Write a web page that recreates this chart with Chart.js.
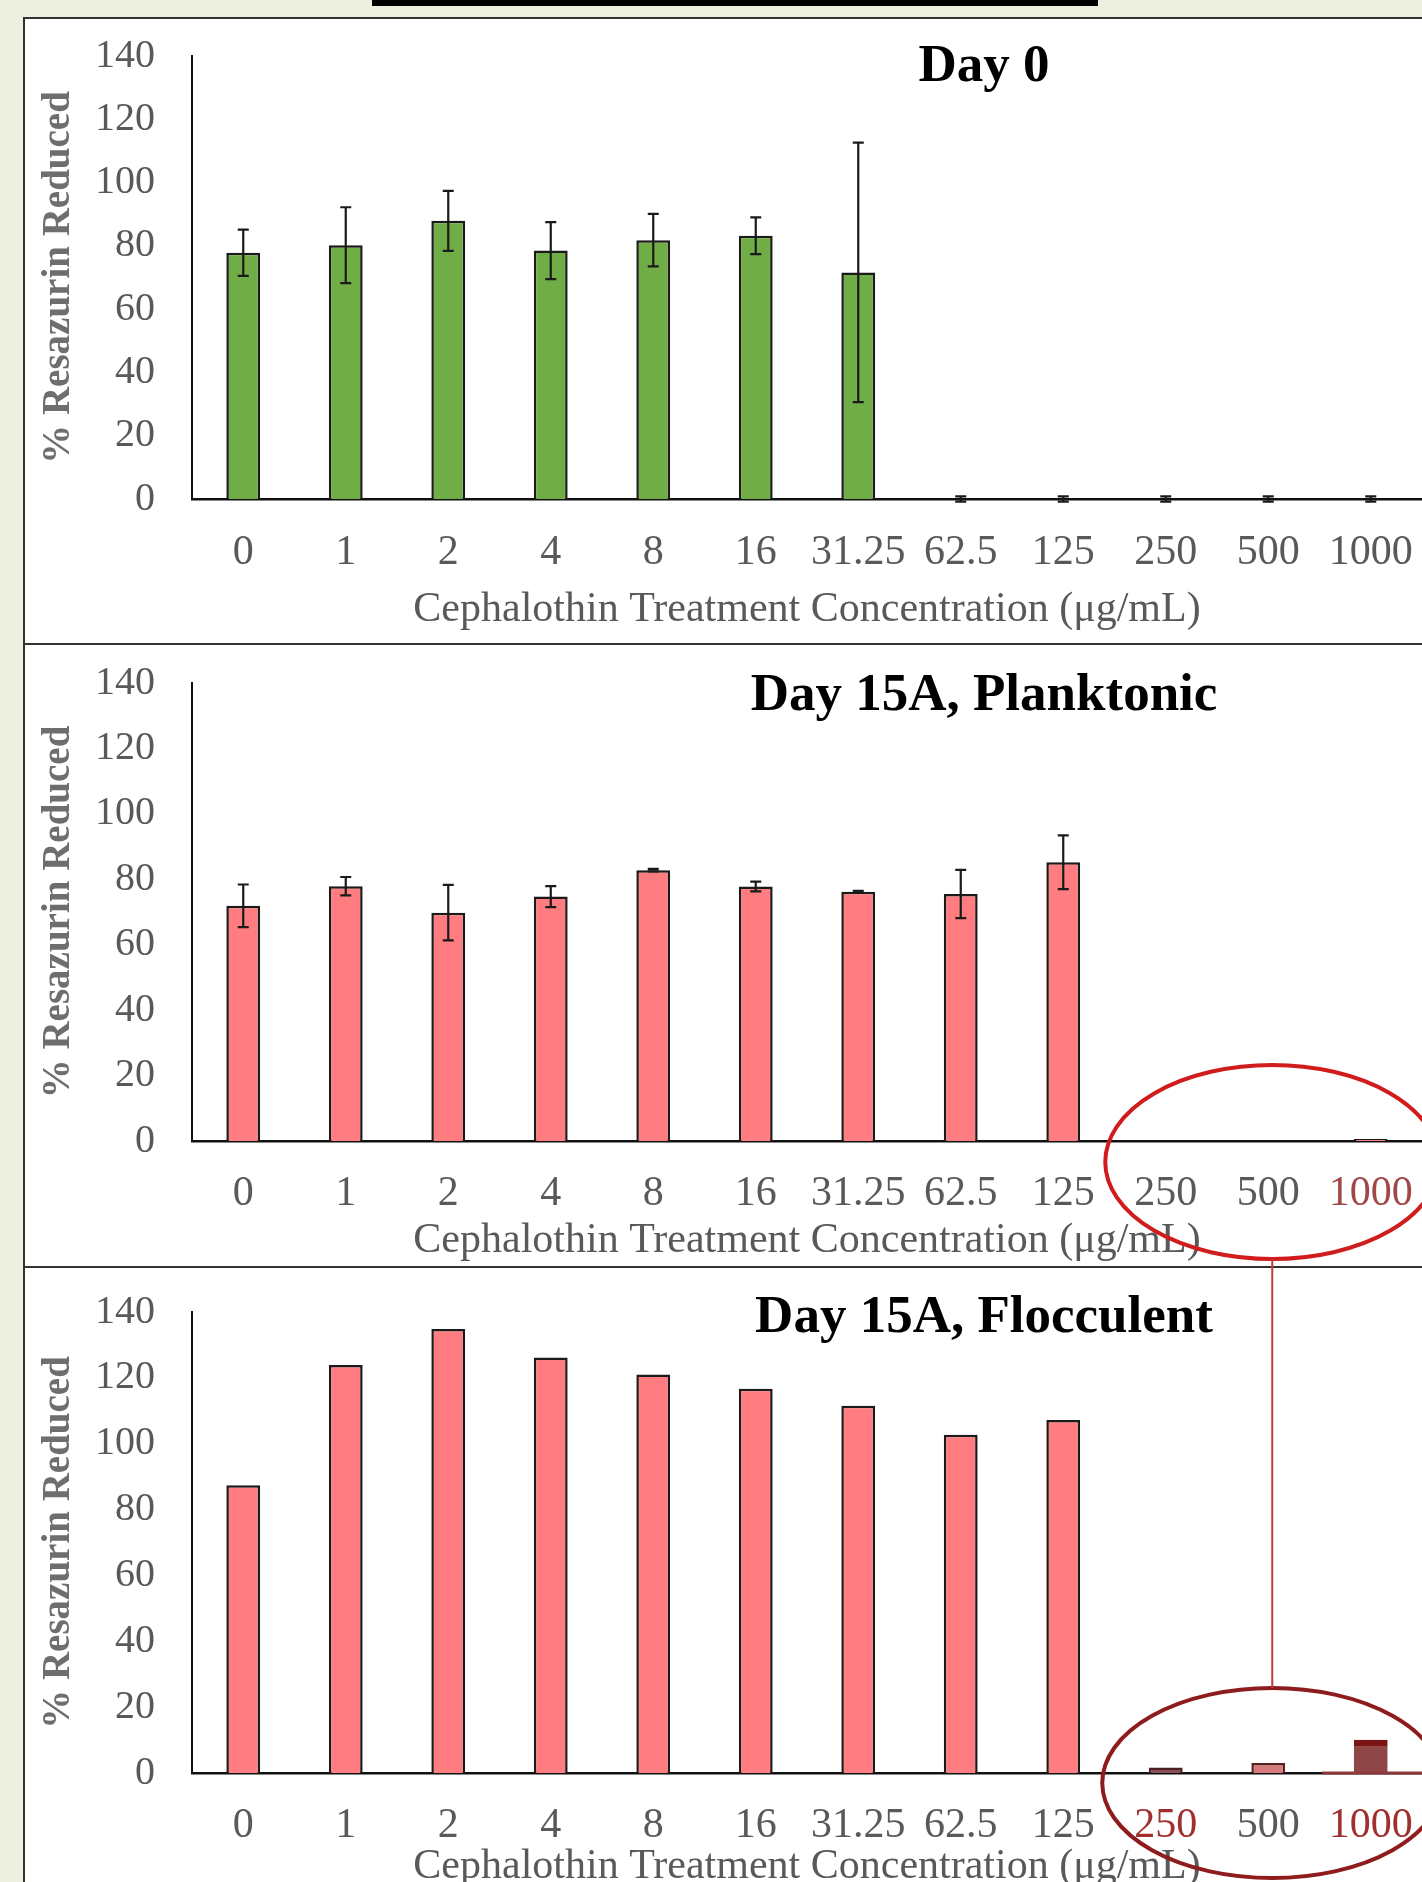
<!DOCTYPE html>
<html>
<head>
<meta charset="utf-8">
<title>Resazurin reduction - Cephalothin</title>
<script src="https://cdn.jsdelivr.net/npm/chart.js@4.4.1/dist/chart.umd.min.js"></script>
<style>
    body { margin: 0; width: 1422px; height: 1882px; overflow: hidden; position: relative; background: #edefe0; }
    .topbar { position: absolute; left: 372px; top: 0; width: 726px; height: 6px; background: #000; }
    .panel { position: absolute; left: 23px; width: 1420px; background: #fff; border-left: 2px solid #333; border-top: 2px solid #333; }
    canvas { position: absolute; left: 0; }
</style>
</head>
<body>
<div class="topbar"></div>
<div class="panel" style="top:17px;height:624px"></div>
<div class="panel" style="top:643px;height:621px"></div>
<div class="panel" style="top:1266px;height:640px"></div>
<canvas id="day0Chart" width="1422" height="644" style="top:0"></canvas>
<canvas id="planktonicChart" width="1422" height="622" style="top:644px"></canvas>
<canvas id="flocculentChart" width="1422" height="640" style="top:1266px"></canvas>

<script>
// data
const concentrations = ['0', '1', '2', '4', '8', '16', '31.25', '62.5', '125', '250', '500', '1000'];

const day0Values = [77.8, 80.2, 87.9, 78.5, 81.8, 83.2, 71.6, 0, 0, 0, 0, 0];
const day0Errors = [7.3, 12, 9.5, 9, 8.3, 5.8, 41, 0.8, 0.8, 0.8, 0.8, 0.8];

const planktonicValues = [71.9, 77.9, 69.8, 74.7, 82.8, 77.8, 76.2, 75.5, 85.2, 0, 0, 0.6];
const planktonicErrors = [6.5, 2.8, 8.5, 3.2, 0.4, 1.5, 0.3, 7.4, 8.2, 0, 0, 0];

const flocculentValues = [87.4, 123.9, 134.8, 126.2, 121.0, 116.7, 111.5, 102.7, 107.2, 1.7, 3.0, 10.1];

const yMin = 0;
const yMax = 140;
const yStep = 20;

// colours
const green = '#70ad47';
const salmon = '#ff7c80';
const flocculentFill = [salmon, salmon, salmon, salmon, salmon, salmon, salmon, salmon, salmon, '#8c4f58', '#d67a7e', '#8e4646'];
const flocculentBorder = ['#1a1a1a', '#1a1a1a', '#1a1a1a', '#1a1a1a', '#1a1a1a', '#1a1a1a', '#1a1a1a', '#1a1a1a', '#1a1a1a', '#4a2020', '#5a2020', '#7a1515'];
const greyText = '#595959';
const serif = "'Liberation Serif', 'Times New Roman', serif";

Chart.defaults.font.family = serif;
Chart.defaults.animation = false;

const errorBarPlugin = {
    id: 'errorBars',
    afterDatasetsDraw(chart, args, opts) {
        const errors = opts.errors;
        if (!errors) return;
        const ctx = chart.ctx;
        const yScale = chart.scales.y;
        const values = chart.data.datasets[0].data;
        const meta = chart.getDatasetMeta(0);
        ctx.save();
        ctx.strokeStyle = '#1a1a1a';
        ctx.lineWidth = 2.2;
        meta.data.forEach((bar, i) => {
            const err = errors[i];
            if (!err) return;
            const top = yScale.getPixelForValue(values[i] + err);
            const bottom = yScale.getPixelForValue(values[i] - err);
            ctx.beginPath();
            ctx.moveTo(bar.x, top);
            ctx.lineTo(bar.x, bottom);
            ctx.moveTo(bar.x - 5.5, top);
            ctx.lineTo(bar.x + 5.5, top);
            ctx.moveTo(bar.x - 5.5, bottom);
            ctx.lineTo(bar.x + 5.5, bottom);
            ctx.stroke();
        });
        ctx.restore();
    }
};

const panelTitlePlugin = {
    id: 'panelTitle',
    afterDraw(chart, args, opts) {
        const ctx = chart.ctx;
        ctx.save();
        ctx.font = 'bold 53px ' + serif;
        ctx.fillStyle = '#000';
        ctx.textAlign = 'center';
        ctx.textBaseline = 'alphabetic';
        ctx.fillText(opts.text, opts.x, opts.y);
        ctx.restore();
    }
};

// hand drawn red circles round the high concentrations
const circlePlugin = {
    id: 'circleNote',
    afterDraw(chart, args, opts) {
        if (!opts.color) return;
        const ctx = chart.ctx;
        const cx = chart.scales.x.getPixelForValue(10) + 4;
        ctx.save();
        if (opts.baseLine) {
            ctx.strokeStyle = '#8e3a3a';
            ctx.lineWidth = 3;
            ctx.beginPath();
            ctx.moveTo(cx + 50, chart.chartArea.bottom);
            ctx.lineTo(chart.width, chart.chartArea.bottom);
            ctx.stroke();
        }
        ctx.strokeStyle = opts.color;
        ctx.lineWidth = 4;
        ctx.beginPath();
        ctx.ellipse(cx, opts.cy, opts.rx, opts.ry, 0, 0, Math.PI * 2);
        ctx.stroke();
        ctx.strokeStyle = '#c43a3a';
        ctx.lineWidth = 2;
        ctx.beginPath();
        ctx.moveTo(cx, opts.lineFrom);
        ctx.lineTo(cx, opts.lineTo);
        ctx.stroke();
        ctx.restore();
    }
};

function drawPanel(id, values, fill, border, borderWidth, layout, extra) {
    let ctx = document.getElementById(id).getContext('2d');
    return new Chart(ctx, {
        type: 'bar',
        data: {
            labels: concentrations,
            datasets: [{
                data: values,
                backgroundColor: fill,
                borderColor: border,
                borderWidth: borderWidth,
                barPercentage: 0.33,
                categoryPercentage: 1
            }]
        },
        plugins: [errorBarPlugin, panelTitlePlugin, circlePlugin],
        options: {
            responsive: false,
            devicePixelRatio: 1,
            layout: {
                autoPadding: false,
                padding: { top: layout.top, left: 0, right: 0, bottom: 0 }
            },
            scales: {
                x: {
                    grid: { display: false, drawTicks: false },
                    border: { display: true, color: '#111', width: 2.5 },
                    ticks: {
                        font: { size: 42 },
                        color: extra.tickColor || greyText,
                        padding: layout.tickPad,
                        maxRotation: 0,
                        autoSkip: false
                    },
                    title: {
                        display: true,
                        text: 'Cephalothin Treatment Concentration (μg/mL)',
                        font: { size: 42 },
                        color: greyText,
                        padding: { top: 0, bottom: layout.titlePad }
                    },
                    afterFit(scale) {
                        scale.height = layout.xHeight;
                        scale.paddingLeft = 0;
                        scale.paddingRight = 0;
                    }
                },
                y: {
                    min: yMin,
                    max: yMax,
                    grid: { display: false, drawTicks: false },
                    border: { display: true, color: '#111', width: 2 },
                    ticks: {
                        stepSize: yStep,
                        font: { size: 40 },
                        color: greyText,
                        padding: 37
                    },
                    title: {
                        display: true,
                        text: '% Resazurin Reduced',
                        font: { size: 39, weight: 'bold' },
                        color: '#6e6e6e',
                        padding: { top: 36, bottom: 0 }
                    },
                    afterFit(scale) {
                        scale.width = 192;
                        scale.paddingTop = 0;
                        scale.paddingBottom = 0;
                    }
                }
            },
            plugins: {
                legend: { display: false },
                tooltip: { enabled: false },
                errorBars: { errors: extra.errors },
                panelTitle: { text: extra.title, x: 984, y: extra.titleY },
                circleNote: extra.circle || {}
            }
        }
    });
}

drawPanel('day0Chart', day0Values, green, '#1a1a1a',
    (c) => (day0Values[c.dataIndex] ? 2.5 : 0),
    { top: 56, xHeight: 145, tickPad: 29, titlePad: 9 },
    { errors: day0Errors, title: 'Day 0', titleY: 81 });

drawPanel('planktonicChart', planktonicValues, salmon, '#1a1a1a',
    (c) => (planktonicValues[c.dataIndex] ? 2.5 : 0),
    { top: 39, xHeight: 125, tickPad: 28, titlePad: 0 },
    {
        errors: planktonicErrors, title: 'Day 15A, Planktonic', titleY: 66,
        tickColor: (c) => (c.index === 11 ? '#a04848' : greyText),
        circle: { color: '#d01c1c', cy: 518, rx: 167, ry: 97, lineFrom: 615, lineTo: 622 }
    });

drawPanel('flocculentChart', flocculentValues,
    (c) => flocculentFill[c.dataIndex],
    (c) => flocculentBorder[c.dataIndex],
    (c) => (c.dataIndex === 11 ? { top: 7, left: 0, right: 0, bottom: 0 } : 2.5),
    { top: 46, xHeight: 133, tickPad: 28, titlePad: 14 },
    {
        errors: null, title: 'Day 15A, Flocculent', titleY: 66,
        tickColor: (c) => (c.index === 9 || c.index === 11 ? '#a03030' : greyText),
        circle: { color: '#8e1c1c', cy: 517, rx: 170, ry: 95, lineFrom: 0, lineTo: 422, baseLine: true }
    });
</script>
</body>
</html>
